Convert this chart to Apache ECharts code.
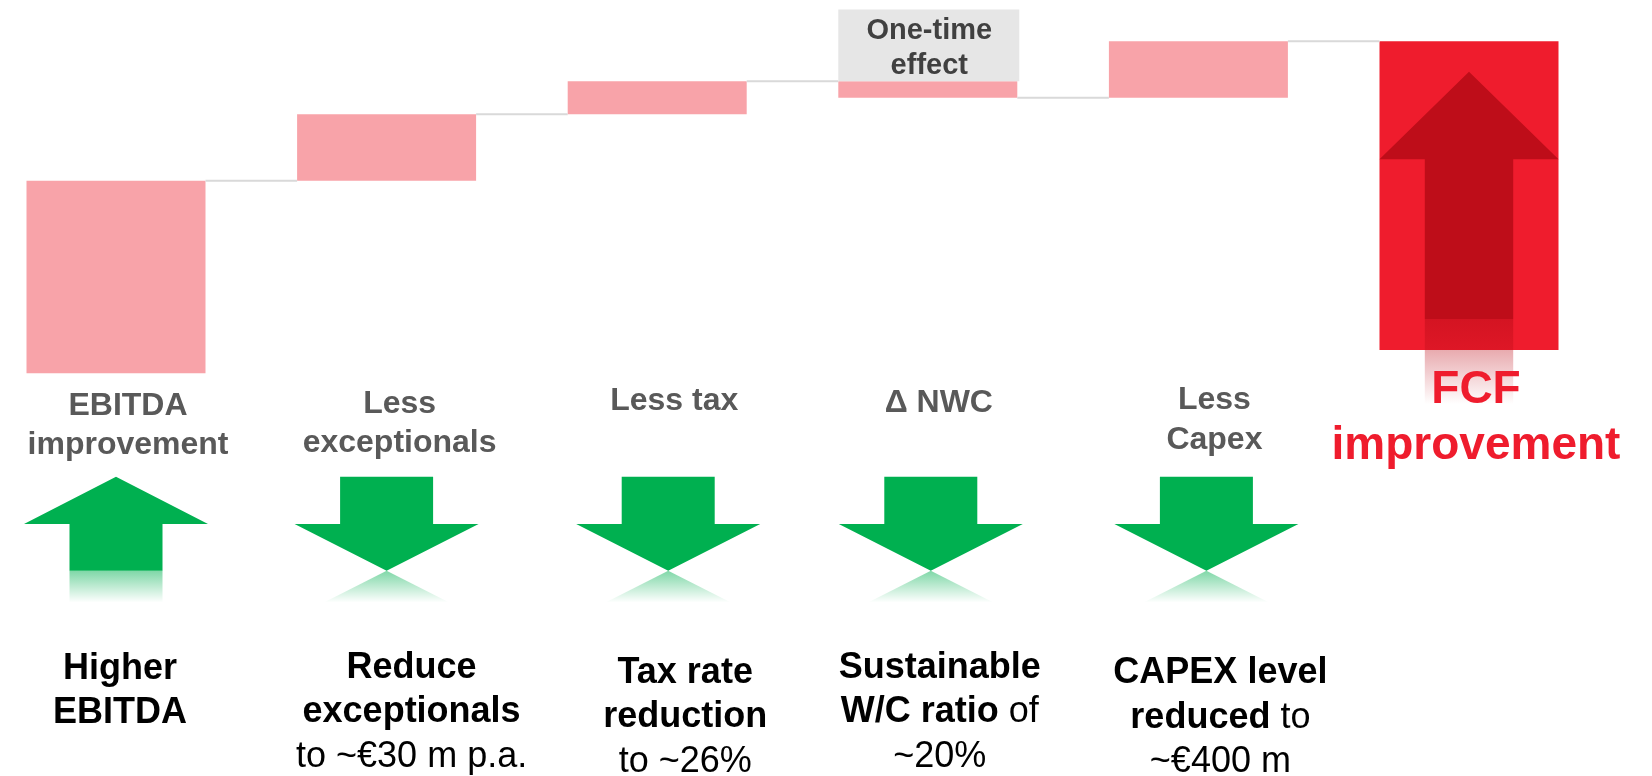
<!DOCTYPE html>
<html>
<head>
<meta charset="utf-8">
<script src="https://cdn.jsdelivr.net/npm/echarts@6/dist/echarts.min.js"></script>
<style>
html,body{margin:0;padding:0;background:#ffffff;}
#chart{width:1652px;height:776px;}
</style>
</head>
<body>
<div id="chart"></div>
<script>
// ---------------- data ----------------
const categories = ['EBITDA improvement', 'Less exceptionals', 'Less tax', 'Δ NWC', 'Less Capex', 'FCF improvement'];
const stepValues = [58, 20, 10, -5, 17];      // waterfall steps (relative units)
const fcfTotal = 100;                          // resulting FCF improvement (top of red bar)
const fcfBarFloor = 7;                         // bottom of the red total bar
const topLabels = ['EBITDA\nimprovement', 'Less\nexceptionals', 'Less tax', 'Δ NWC', 'Less\nCapex'];
const arrowDirections = ['up', 'down', 'down', 'down', 'down'];
const bottomLabels = [
  '{b|Higher}\n{b|EBITDA}',
  '{b|Reduce}\n{b|exceptionals}\n{r|to ~€30 m p.a.}',
  '{b|Tax rate}\n{b|reduction}\n{r|to ~26%}',
  '{b|Sustainable}\n{b|W/C ratio}{r| of}\n{r|~20%}',
  '{b|CAPEX level}\n{b|reduced}{r| to}\n{r|~€400 m}'
];
const totalLabel = 'FCF\nimprovement';
const noteLabel = 'One-time\neffect';
const noteIndex = 3;

// ---------------- derived waterfall ----------------
const baseVals = [], deltaVals = [], levels = [];
let cum = 0;
stepValues.forEach(v => {
  const start = cum; cum += v;
  baseVals.push(Math.min(start, cum));
  deltaVals.push(Math.abs(v));
  levels.push(cum);
});
baseVals.push(fcfBarFloor);
deltaVals.push(fcfTotal - fcfBarFloor);

// ---------------- styles / layout ----------------
const FONT = '"Liberation Sans", Arial, Helvetica, sans-serif';
const PINK = '#F8A3A9', RED = '#EF1C2D', DARKRED = '#BE0D19', GREEN = '#00B050';
const L = {
  barW: 179,
  topDx: [12, 13, 17, 11, 16], topDy: [12.7, 10.7, 7.7, 10.2, 7.2], topLH: 39.5,
  arrowDx: [0, 0, 11, 3, 8],
  botDx: [4, 25, 28, 12, 22], botDy: [273.5, 272.2, 277.2, 272.2, 277.8],
  arrowTop: 103.4, arrowMid: 150.7, arrowBot: 197.4, reflBot: 229.2,
  headHalf: 92, shaftHalf: 46.5
};

function greenFade() {
  return new echarts.graphic.LinearGradient(0, 0, 0, 1, [
    { offset: 0, color: 'rgba(0,176,80,0.5)' },
    { offset: 1, color: 'rgba(0,176,80,0)' }
  ]);
}

function renderDecor(params, api) {
  const i = api.value(0);
  const p0 = api.coord([i, 0]);
  const cx = p0[0], y0 = p0[1];
  const children = [];
  if (i < 5) {
    const ax = cx + L.arrowDx[i];
    const t = y0 + L.arrowTop, m = y0 + L.arrowMid, b = y0 + L.arrowBot, r = y0 + L.reflBot;
    const hh = L.headHalf, sh = L.shaftHalf;
    if (arrowDirections[i] === 'up') {
      children.push({ type: 'polygon', shape: { points: [[ax, t], [ax + hh, m], [ax + sh, m], [ax + sh, b], [ax - sh, b], [ax - sh, m], [ax - hh, m]] }, style: { fill: GREEN } });
      children.push({ type: 'rect', shape: { x: ax - sh, y: b, width: sh * 2, height: r - b }, style: { fill: greenFade() } });
    } else {
      children.push({ type: 'polygon', shape: { points: [[ax - sh, t], [ax + sh, t], [ax + sh, m], [ax + hh, m], [ax, b], [ax - hh, m], [ax - sh, m]] }, style: { fill: GREEN } });
      const w = hh * (r - b) / (b - m);
      children.push({ type: 'polygon', shape: { points: [[ax, b], [ax + w, r], [ax - w, r]] }, style: { fill: greenFade() } });
    }
    children.push({
      type: 'text', x: cx + L.topDx[i], y: y0 + L.topDy[i],
      style: { text: topLabels[i], align: 'center', verticalAlign: 'top', fill: '#595959',
        font: 'bold 32px ' + FONT, lineHeight: L.topLH }
    });
    children.push({
      type: 'text', x: cx + L.botDx[i], y: y0 + L.botDy[i],
      style: { text: bottomLabels[i], align: 'center', verticalAlign: 'top', fill: '#000',
        font: 'bold 36px ' + FONT,
        rich: {
          b: { fontSize: 36, fontWeight: 'bold', fontFamily: FONT, fill: '#000', lineHeight: 44.5 },
          r: { fontSize: 36, fontWeight: 'normal', fontFamily: FONT, fill: '#000', lineHeight: 44.5 }
        } }
    });
    if (i === noteIndex) {
      const barTop = api.coord([i, Math.max(levels[i - 1], levels[i])])[1];
      const h = 71.7;
      children.push({ type: 'rect', shape: { x: cx - L.barW / 2, y: barTop - h, width: L.barW + 2, height: h }, style: { fill: '#E6E6E6' } });
      children.push({
        type: 'text', x: cx + 1.5, y: barTop - h + 3.8,
        style: { text: noteLabel, align: 'center', verticalAlign: 'top', fill: '#404040',
          font: 'bold 29px ' + FONT, lineHeight: 35 }
      });
    }
  } else {
    const top = api.coord([i, fcfTotal])[1];
    const bot = api.coord([i, fcfBarFloor])[1];
    const H = bot - top;
    const hh = L.barW / 2, sh = 44.2;
    const tip = top + 0.099 * H, mid = top + 0.382 * H, sb = top + 0.899 * H, rb = top + 1.175 * H;
    children.push({ type: 'polygon', shape: { points: [[cx, tip], [cx + hh, mid], [cx + sh, mid], [cx + sh, sb], [cx - sh, sb], [cx - sh, mid], [cx - hh, mid]] }, style: { fill: DARKRED } });
    children.push({ type: 'rect', shape: { x: cx - sh, y: sb, width: sh * 2, height: rb - sb },
      style: { fill: new echarts.graphic.LinearGradient(0, 0, 0, 1, [
        { offset: 0, color: 'rgba(190,13,25,0.55)' },
        { offset: 1, color: 'rgba(190,13,25,0)' }
      ]) } });
    children.push({
      type: 'text', x: cx + 7, y: y0 - 11.7,
      style: { text: totalLabel, align: 'center', verticalAlign: 'top', fill: RED,
        font: 'bold 46px ' + FONT, lineHeight: 56.7 }
    });
  }
  return { type: 'group', children: children };
}

const chart = echarts.init(document.getElementById('chart'), null, { renderer: 'canvas' });
chart.setOption({
  animation: false,
  backgroundColor: '#ffffff',
  grid: { left: -19.3, right: 47.7, top: 1.46, bottom: 4.3, containLabel: false, outerBoundsMode: 'none' },
  xAxis: { type: 'category', data: categories, show: false, boundaryGap: true },
  yAxis: { type: 'value', min: -120, max: 112, show: false, splitLine: { show: false } },
  series: [
    {
      name: 'base', type: 'bar', stack: 'wf', barWidth: L.barW, silent: true,
      itemStyle: { color: 'transparent' }, data: baseVals
    },
    {
      name: 'delta', type: 'bar', stack: 'wf', barWidth: L.barW, silent: true,
      data: deltaVals.map((v, i) => ({ value: v, itemStyle: { color: i === 5 ? RED : PINK } }))
    },
    {
      name: 'connectors', type: 'custom', silent: true, clip: false, z: 3,
      data: levels.map((v, i) => [i, v]),
      renderItem: function (params, api) {
        const i = api.value(0), v = api.value(1);
        const a = api.coord([i, v]), b = api.coord([i + 1, v]);
        const hw = L.barW / 2;
        return { type: 'line', shape: { x1: a[0] + hw, y1: a[1], x2: b[0] - hw, y2: b[1] },
          style: { stroke: '#D9D9D9', lineWidth: 2 } };
      }
    },
    {
      name: 'decor', type: 'custom', silent: true, clip: false, z: 4,
      data: categories.map((c, i) => [i, 0]),
      renderItem: renderDecor
    }
  ]
});
</script>
</body>
</html>
